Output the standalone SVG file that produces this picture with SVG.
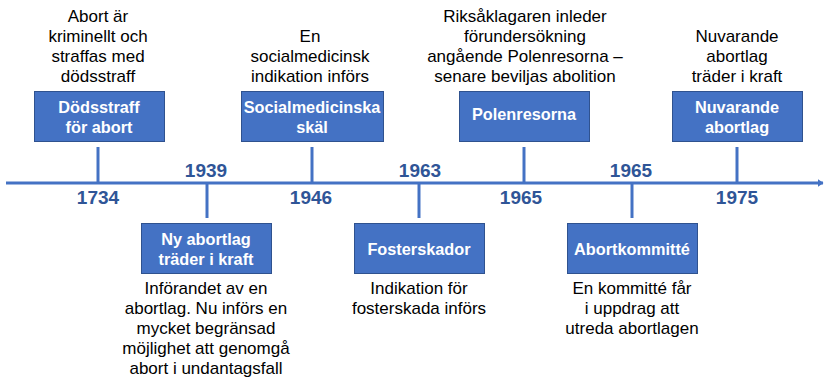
<svg xmlns="http://www.w3.org/2000/svg" width="824" height="380" viewBox="0 0 824 380">
<defs>
<style>
.box{fill:#4472C4;stroke:#2F528F;stroke-width:1}
.bt{font-family:"Liberation Sans",Arial,sans-serif;font-weight:bold;font-size:16.3px;fill:#FFFFFF;text-anchor:middle}
.dt{font-family:"Liberation Sans",Arial,sans-serif;font-size:17px;fill:#000000;text-anchor:middle}
.yr{font-family:"Liberation Sans",Arial,sans-serif;font-weight:bold;font-size:19px;fill:#2F5597;text-anchor:middle}
.ln{stroke:#4472C4;stroke-width:3;fill:none}
</style>
<marker id="ah" viewBox="0 0 6 8" refX="5.5" refY="4" markerWidth="6" markerHeight="8" markerUnits="userSpaceOnUse" orient="auto">
<path d="M0,0 L6,4 L0,8 Z" fill="#4472C4"/>
</marker>
</defs>
<g id="connectors">
<line class="ln" x1="6" y1="183" x2="823" y2="183" marker-end="url(#ah)"/>
<line class="ln" x1="98" y1="147" x2="98" y2="183"/>
<line class="ln" x1="312" y1="147" x2="312" y2="183"/>
<line class="ln" x1="524" y1="147" x2="524" y2="183"/>
<line class="ln" x1="737" y1="147" x2="737" y2="183"/>
<line class="ln" x1="207" y1="183" x2="207" y2="218"/>
<line class="ln" x1="419" y1="183" x2="419" y2="218"/>
<line class="ln" x1="632" y1="183" x2="632" y2="218"/>
</g>
<g id="years">
<text class="yr" x="98" y="204">1734</text>
<text class="yr" x="206" y="177">1939</text>
<text class="yr" x="311" y="204">1946</text>
<text class="yr" x="420" y="177">1963</text>
<text class="yr" x="521" y="204">1965</text>
<text class="yr" x="631" y="177">1965</text>
<text class="yr" x="737" y="204">1975</text>
</g>
<g id="n1734">
<rect class="box" x="34.5" y="91.5" width="130" height="50"/>
<text class="bt" x="99" y="113">Dödsstraff</text>
<text class="bt" x="99" y="133">för abort</text>
<text class="dt" x="98" y="22">Abort är</text>
<text class="dt" x="98" y="42">kriminellt och</text>
<text class="dt" x="98" y="62">straffas med</text>
<text class="dt" x="98" y="82">dödsstraff</text>
</g>
<g id="n1939">
<rect class="box" x="141.5" y="223.5" width="130" height="50"/>
<text class="bt" x="206" y="245">Ny abortlag</text>
<text class="bt" x="206" y="265">träder i kraft</text>
<text class="dt" x="206" y="294">Införandet av en</text>
<text class="dt" x="206" y="314">abortlag. Nu införs en</text>
<text class="dt" x="206" y="334">mycket begränsad</text>
<text class="dt" x="206" y="354">möjlighet att genomgå</text>
<text class="dt" x="206" y="374">abort i undantagsfall</text>
</g>
<g id="n1946">
<rect class="box" x="241.5" y="91.5" width="142" height="50"/>
<text class="bt" x="312" y="113">Socialmedicinska</text>
<text class="bt" x="312" y="133">skäl</text>
<text class="dt" x="310" y="42">En</text>
<text class="dt" x="310" y="62">socialmedicinsk</text>
<text class="dt" x="310" y="82">indikation införs</text>
</g>
<g id="n1963">
<rect class="box" x="354.5" y="223.5" width="130" height="50"/>
<text class="bt" x="419" y="255">Fosterskador</text>
<text class="dt" x="419" y="294">Indikation för</text>
<text class="dt" x="419" y="314">fosterskada införs</text>
</g>
<g id="n1965a">
<rect class="box" x="459.5" y="91.5" width="130" height="50"/>
<text class="bt" x="524" y="120">Polenresorna</text>
<text class="dt" x="525" y="22">Riksåklagaren inleder</text>
<text class="dt" x="525" y="42">förundersökning</text>
<text class="dt" x="525" y="62">angående Polenresorna –</text>
<text class="dt" x="525" y="82">senare beviljas abolition</text>
</g>
<g id="n1965b">
<rect class="box" x="567.5" y="223.5" width="130" height="50"/>
<text class="bt" x="632" y="255">Abortkommitté</text>
<text class="dt" x="632" y="294">En kommitté får</text>
<text class="dt" x="632" y="314">i uppdrag att</text>
<text class="dt" x="632" y="334">utreda abortlagen</text>
</g>
<g id="n1975">
<rect class="box" x="672.5" y="91.5" width="130" height="50"/>
<text class="bt" x="737" y="113">Nuvarande</text>
<text class="bt" x="737" y="133">abortlag</text>
<text class="dt" x="737" y="42">Nuvarande</text>
<text class="dt" x="737" y="62">abortlag</text>
<text class="dt" x="737" y="82">träder i kraft</text>
</g>
</svg>
